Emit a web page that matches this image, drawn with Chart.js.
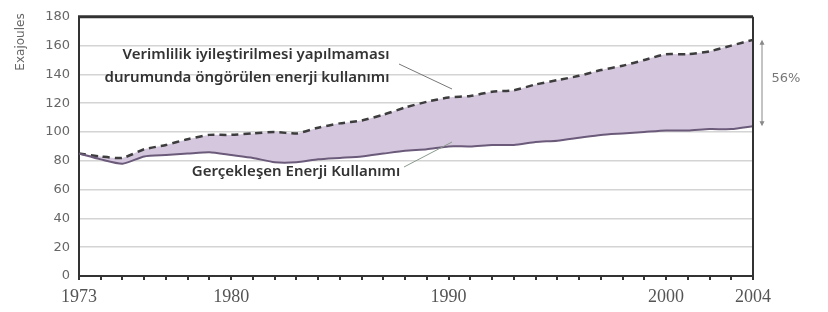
<!DOCTYPE html>
<html>
<head>
<meta charset="utf-8">
<script src="https://cdn.jsdelivr.net/npm/chart.js@4.4.1/dist/chart.umd.min.js"></script>
<style>
  body { margin: 0; background: #fff; }
  #wrap { width: 828px; height: 312px; position: relative; }
</style>
</head>
<body>
<div id="wrap"><canvas id="myChart"></canvas></div>
<script>
const years = [];
for (let y = 1973; y <= 2004; y++) years.push(y);

// Gerçekleşen enerji kullanımı (Exajoules)
const actual = [85, 81, 78, 83, 84, 85, 86, 84, 82, 79, 79, 81, 82, 83, 85, 87, 88, 90, 90, 91, 91, 93, 94, 96, 98, 99, 100, 101, 101, 102, 102, 104];
// Verimlilik iyileştirilmesi yapılmaması durumunda öngörülen
const projected = [85, 83, 82, 88, 91, 95, 98, 98, 99, 100, 99, 103, 106, 108, 112, 117, 121, 124, 125, 128, 129, 133, 136, 139, 143, 146, 150, 154, 154, 156, 160, 164];

const shownYears = [1973, 1980, 1990, 2000, 2004];
const yTicks = [0, 20, 40, 60, 80, 100, 120, 140, 160, 180];

// extra drawing: frame, notes, arrows
const notes = {
  id: 'notes',
  afterDraw(chart) {
    const c = chart.ctx;
    const a = chart.chartArea;
    const ys = chart.scales.y;
    c.save();

    // top + right frame
    c.strokeStyle = '#333';
    c.lineWidth = 3;
    c.beginPath();
    c.moveTo(a.left - 1, a.top);
    c.lineTo(a.right, a.top);
    c.stroke();
    c.lineWidth = 2;
    c.beginPath();
    c.moveTo(a.right, a.top);
    c.lineTo(a.right, a.bottom);
    c.stroke();

    // y title
    c.save();
    c.translate(21, 42);
    c.rotate(-Math.PI / 2);
    c.fillStyle = '#666';
    c.font = '12px "DejaVu Sans"';
    c.textAlign = 'center';
    c.textBaseline = 'middle';
    c.fillText('Exajoules', 0, 0);
    c.restore();

    // text labels
    c.fillStyle = '#333';
    c.font = '600 15px "Noto Sans"';
    c.textAlign = 'center';
    c.textBaseline = 'middle';
    c.fillText('Verimlilik iyileştirilmesi yapılmaması', 256, 55);
    c.fillText('durumunda öngörülen enerji kullanımı', 247, 78);
    c.fillText('Gerçekleşen Enerji Kullanımı', 296, 172);

    // pointer lines
    c.lineWidth = 1;
    c.strokeStyle = '#777';
    c.beginPath();
    c.moveTo(399, 64);
    c.lineTo(452, 89);
    c.stroke();
    c.strokeStyle = '#8a9a8c';
    c.beginPath();
    c.moveTo(404, 167);
    c.lineTo(452, 142);
    c.stroke();

    // 56% double arrow
    const yTop = ys.getPixelForValue(projected[projected.length - 1]);
    const yBot = ys.getPixelForValue(actual[actual.length - 1]);
    const ax = 762;
    c.strokeStyle = '#888';
    c.fillStyle = '#888';
    c.beginPath();
    c.moveTo(ax, yTop + 2);
    c.lineTo(ax, yBot - 2);
    c.stroke();
    c.beginPath();
    c.moveTo(ax, yTop);
    c.lineTo(ax - 2.5, yTop + 5);
    c.lineTo(ax + 2.5, yTop + 5);
    c.closePath();
    c.fill();
    c.beginPath();
    c.moveTo(ax, yBot);
    c.lineTo(ax - 2.5, yBot - 5);
    c.lineTo(ax + 2.5, yBot - 5);
    c.closePath();
    c.fill();
    c.fillStyle = '#777';
    c.font = '13px "DejaVu Sans"';
    c.fillText('56%', 786, 79);

    c.restore();
  }
};

const ctx = document.getElementById('myChart');

new Chart(ctx, {
  type: 'line',
  data: {
    labels: years,
    datasets: [{
      label: 'Gerçekleşen',
      data: actual,
      borderColor: '#6b5a7a',
      borderWidth: 2,
      pointRadius: 0,
      tension: 0.2,
      fill: false
    }, {
      label: 'Öngörülen',
      data: projected,
      borderColor: '#3d3d3d',
      borderWidth: 2.5,
      borderDash: [7, 5],
      pointRadius: 0,
      tension: 0.2,
      fill: '-1',
      backgroundColor: '#d5c8de'
    }]
  },
  plugins: [notes],
  options: {
    responsive: true,
    maintainAspectRatio: false,
    animation: false,
    layout: { padding: { top: 10, right: 75, left: 0, bottom: 0 } },
    plugins: {
      legend: { display: false },
      tooltip: { enabled: false }
    },
    scales: {
      x: {
        offset: false,
        grid: { drawOnChartArea: false, color: '#333', tickLength: 4, lineWidth: 2 },
        border: { color: '#333', width: 2 },
        ticks: {
          autoSkip: false,
          maxRotation: 0,
          padding: 6,
          color: '#555',
          font: { family: 'Liberation Serif', size: 18 },
          callback: function (v) {
            const yr = years[v];
            return shownYears.includes(yr) ? String(yr) : '';
          }
        },
        afterFit: s => { s.height = 36; }
      },
      y: {
        min: 0,
        max: 180,
        afterBuildTicks: s => { s.ticks = yTicks.map(v => ({ value: v })); },
        grid: { color: '#d4d4d4', lineWidth: 1.5, drawTicks: false },
        border: { color: '#333', width: 2 },
        ticks: {
          padding: 9,
          color: '#666',
          font: { family: 'DejaVu Sans', size: 13 }
        },
        afterFit: s => { s.width = 79; }
      }
    }
  }
});
</script>
</body>
</html>
